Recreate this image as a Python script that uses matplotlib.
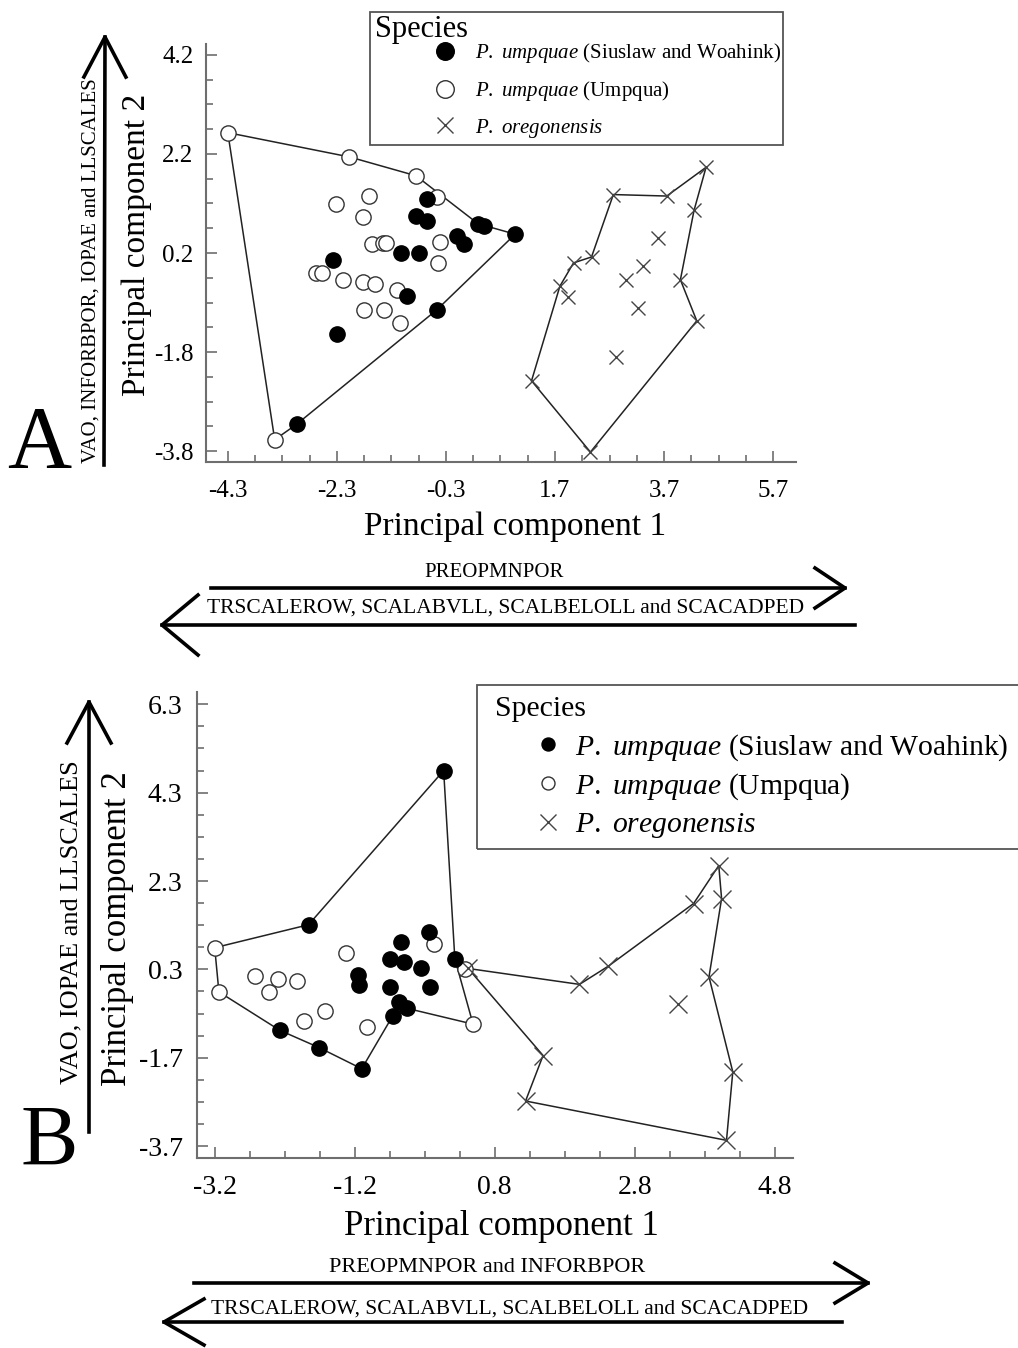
import numpy as np
import matplotlib
matplotlib.use('Agg')
import matplotlib.pyplot as plt
from matplotlib.lines import Line2D
from matplotlib.patches import Rectangle

plt.rcParams['font.family'] = 'Liberation Serif'
plt.rcParams['mathtext.fontset'] = 'custom'
plt.rcParams['mathtext.rm'] = 'Liberation Serif'
plt.rcParams['mathtext.it'] = 'Liberation Serif:italic'

W, H = 1018, 1348

# ---- panel A data (PC1, PC2) ----
a_sw_x = [-0.65, -0.84, -0.64, 0.29, 0.40, -0.10, 0.03, 0.97, -2.37, -1.13, -0.79, -1.02, -0.47, -2.29, -3.04]
a_sw_y = [1.30, 0.94, 0.85, 0.79, 0.74, 0.55, 0.38, 0.58, 0.06, 0.21, 0.19, -0.66, -0.95, -1.43, -3.26]
a_um_x = [-4.30, -2.07, -0.85, -0.46, -2.31, -1.71, -1.82, -1.66, -1.45, -1.39, -0.41, -0.45,
          -2.69, -2.58, -2.18, -1.82, -1.60, -1.20, -1.80, -1.44, -1.14, -3.44]
a_um_y = [2.63, 2.14, 1.76, 1.34, 1.18, 1.35, 0.93, 0.38, 0.40, 0.41, 0.42, -0.01,
          -0.21, -0.21, -0.34, -0.39, -0.42, -0.54, -0.96, -0.95, -1.21, -3.57]
a_or_x = [4.47, 2.77, 3.75, 4.25, 3.59, 2.37, 2.04, 3.32, 3.00, 1.79, 1.94, 4.00, 3.23, 4.30, 2.82, 1.27, 2.35]
a_or_y = [1.93, 1.38, 1.35, 1.06, 0.50, 0.12, 0.00, -0.07, -0.34, -0.47, -0.68, -0.34, -0.92, -1.17, -1.90, -2.38, -3.82]
a_hull_um_x = [-4.30, -2.07, -0.85, 0.29, 0.97, -0.47, -3.04, -3.44, -4.30]
a_hull_um_y = [2.63, 2.14, 1.76, 0.79, 0.58, -0.95, -3.26, -3.57, 2.63]
a_hull_or_x = [1.27, 1.79, 2.04, 2.37, 2.77, 3.75, 4.47, 4.25, 4.00, 4.30, 2.35, 1.27]
a_hull_or_y = [-2.38, -0.47, 0.00, 0.12, 1.38, 1.35, 1.93, 1.06, -0.34, -1.17, -3.82, -2.38]
a_xticks = [-4.3, -2.3, -0.3, 1.7, 3.7, 5.7]
a_yticks = [-3.8, -1.8, 0.2, 2.2, 4.2]

# ---- panel B data ----
b_sw_x = [0.07, -1.86, 0.23, -0.14, -0.54, -0.70, -0.49, -0.25, -0.13, -1.15, -1.14, -0.70, -0.57, -0.46, -0.66, -2.27, -1.71, -1.10]
b_sw_y = [4.80, 1.31, 0.54, 1.14, 0.93, 0.54, 0.47, 0.32, -0.11, 0.18, -0.06, -0.11, -0.44, -0.58, -0.76, -1.08, -1.47, -1.95]
b_um_x = [-3.20, -3.14, -2.63, -2.43, -2.29, -2.03, -1.32, -1.63, -1.92, -1.03, -0.07, 0.49, 0.37]
b_um_y = [0.79, -0.21, 0.16, -0.21, 0.09, 0.04, 0.68, -0.64, -0.87, -1.00, 0.88, -0.94, 0.30]
b_or_x = [4.00, 4.04, 3.64, 2.42, 2.01, 0.42, 3.86, 3.42, 1.49, 1.24, 4.20, 4.11]
b_or_y = [2.65, 1.90, 1.79, 0.37, -0.04, 0.32, 0.13, -0.48, -1.65, -2.68, -2.02, -3.57]
b_hull_um_x = [-3.20, -1.86, 0.07, 0.23, 0.49, -0.46, -0.66, -1.10, -1.71, -2.27, -3.14, -3.20]
b_hull_um_y = [0.79, 1.31, 4.80, 0.54, -0.94, -0.58, -0.76, -1.95, -1.47, -1.08, -0.21, 0.79]
b_hull_or_x = [0.42, 2.01, 2.42, 3.64, 4.00, 4.04, 3.86, 4.20, 4.11, 1.24, 1.49, 0.42]
b_hull_or_y = [0.32, -0.04, 0.37, 1.79, 2.65, 1.90, 0.13, -2.02, -3.57, -2.68, -1.65, 0.32]
b_xticks = [-3.2, -1.2, 0.8, 2.8, 4.8]
b_yticks = [-3.7, -1.7, 0.3, 2.3, 4.3, 6.3]

labels = [r'$\it{P.\ umpquae}$ (Siuslaw and Woahink)',
          r'$\it{P.\ umpquae}$ (Umpqua)',
          r'$\it{P.\ oregonensis}$']


def fx(px):
    return px / W


def fy(py):
    return 1 - py / H


fig = plt.figure(figsize=(W / 100, H / 100), dpi=100)


def style_axis(ax, xt, yt, xlim, ylim, size, xpad, ypad):
    ax.set_xticks(xt)
    ax.set_xticklabels(['%.1f' % v for v in xt])
    ax.set_yticks(yt)
    ax.set_yticklabels(['%.1f' % v for v in yt])
    xm = np.arange(xt[0] - 0.5, xlim[1], 0.5)
    ym = np.arange(yt[0] - 0.5, ylim[1], 0.5)
    ax.set_xticks(xm[xm > xlim[0]], minor=True)
    ax.set_yticks(ym[ym > ylim[0]], minor=True)
    ax.set_xlim(*xlim)
    ax.set_ylim(*ylim)
    ax.spines[['top', 'right']].set_visible(False)
    for s in ['left', 'bottom']:
        ax.spines[s].set_color('#6e6e6e')
        ax.spines[s].set_linewidth(1.5)
    ax.tick_params(which='both', direction='in', color='#6e6e6e', width=1.2, labelsize=size)
    ax.tick_params(which='major', length=8)
    ax.tick_params(which='minor', length=5)
    ax.tick_params(axis='x', pad=xpad)
    ax.tick_params(axis='y', pad=ypad)


def draw_panel(ax, sw, um, orr, hum, hor, ms_x):
    ax.plot(hum[0], hum[1], color='#222222', lw=1.1, zorder=1)
    ax.plot(hor[0], hor[1], color='#222222', lw=1.1, zorder=1)
    h1, = ax.plot(sw[0], sw[1], 'o', ms=11, mfc='black', mec='black', ls='none', zorder=3)
    h2, = ax.plot(um[0], um[1], 'o', ms=11, mfc='white', mec='#333333', mew=1.0, ls='none', zorder=2)
    h3, = ax.plot(orr[0], orr[1], 'x', ms=ms_x, color='#444444', mew=1.0, ls='none', zorder=2)
    return [h1, h2, h3]


def open_arrow(x0, y0, x1, y1, hl, hw):
    d = np.array([x1 - x0, y1 - y0], float)
    u = d / np.hypot(*d)
    p = np.array([-u[1], u[0]])
    tip = np.array([x1, y1], float)
    base = tip - hl * u
    a1 = base + hw * p
    a2 = base - hw * p
    fig.add_artist(Line2D([fx(x0), fx(x1)], [fy(y0), fy(y1)], color='black', lw=2.6,
                          transform=fig.transFigure))
    fig.add_artist(Line2D([fx(a1[0]), fx(x1), fx(a2[0])], [fy(a1[1]), fy(y1), fy(a2[1])],
                          color='black', lw=2.6, transform=fig.transFigure))


# ---------- panel A ----------
axA = fig.add_axes([fx(206), fy(462), (796 - 206) / W, (462 - 44) / H])
hA = draw_panel(axA, (a_sw_x, a_sw_y), (a_um_x, a_um_y), (a_or_x, a_or_y),
                (a_hull_um_x, a_hull_um_y), (a_hull_or_x, a_hull_or_y), 10)
style_axis(axA, a_xticks, a_yticks, (-4.70, 6.12), (-4.02, 4.42), 18, 13, 9)
axA.set_xlabel('Principal component 1', fontsize=24)
axA.xaxis.set_label_coords(0.524, -0.155)
axA.xaxis.label.set_va('center')
axA.set_ylabel('Principal component 2', fontsize=24, va='center')
axA.yaxis.set_label_coords(-0.118, 0.52)

fig.add_artist(Rectangle((fx(370), fy(145)), (783 - 370) / W, (145 - 12) / H,
                         transform=fig.transFigure, fill=False, ec='#555555', lw=1.3))
fig.text(fx(375), fy(37), 'Species', fontsize=22, ha='left', va='baseline')
fs = 15 / 72 * 100
legA = axA.legend(hA, labels, loc='center left', bbox_to_anchor=(fx(445 - 0.5 * fs), fy(90.5)),
                  bbox_transform=fig.transFigure, frameon=False, fontsize=15,
                  borderpad=0, borderaxespad=0, handlelength=1.0,
                  handletextpad=(475 - 445 - 0.5 * fs) / fs, labelspacing=0.65, markerscale=1.15)

fig.text(fx(39), fy(467), 'A', fontsize=64, ha='center', va='baseline')
open_arrow(104, 465, 105, 37, 40, 21)
fig.text(fx(91), fy(271), 'VAO, INFORBPOR, IOPAE and LLSCALES', fontsize=15,
         rotation=90, ha='center', va='center')
open_arrow(211, 588, 845, 588, 30, 20)
fig.text(fx(494), fy(573), 'PREOPMNPOR', fontsize=15, ha='center', va='center')
open_arrow(855, 625, 162, 625, 36, 30)
fig.text(fx(506), fy(608), 'TRSCALEROW, SCALABVLL, SCALBELOLL and SCACADPED', fontsize=15.5,
         ha='center', va='center')

# ---------- panel B ----------
axB = fig.add_axes([fx(196.5), fy(1158), (793 - 196.5) / W, (1158 - 691.7) / H])
hB = draw_panel(axB, (b_sw_x, b_sw_y), (b_um_x, b_um_y), (b_or_x, b_or_y),
                (b_hull_um_x, b_hull_um_y), (b_hull_or_x, b_hull_or_y), 13)
style_axis(axB, b_xticks, b_yticks, (-3.46, 5.06), (-3.97, 6.585), 20, 12, 10)
axB.set_xlabel('Principal component 1', fontsize=25)
axB.xaxis.set_label_coords(0.512, -0.146)
axB.xaxis.label.set_va('center')
axB.set_ylabel('Principal component 2', fontsize=25, va='center')
axB.yaxis.set_label_coords(-0.133, 0.491)

fig.add_artist(Rectangle((fx(477), fy(849)), (1060 - 477) / W, (849 - 685) / H,
                         transform=fig.transFigure, fill=False, ec='#555555', lw=1.3))
fig.text(fx(495), fy(716), 'Species', fontsize=21.5, ha='left', va='baseline')
fs = 21.3 / 72 * 100
legB = axB.legend(hB, labels, loc='center left', bbox_to_anchor=(fx(548 - 0.4 * fs), fy(786)),
                  bbox_transform=fig.transFigure, frameon=False, fontsize=21.3,
                  borderpad=0, borderaxespad=0, handlelength=0.8,
                  handletextpad=(575 - 548 - 0.4 * fs) / fs, labelspacing=0.3, markerscale=0.85)

fig.text(fx(49), fy(1165), 'B', fontsize=62, ha='center', va='baseline')
open_arrow(89, 1132, 89, 702, 41, 22)
fig.text(fx(71), fy(922), 'VAO, IOPAE and LLSCALES', fontsize=19,
         rotation=90, ha='center', va='center')
open_arrow(194, 1283, 868, 1283, 33, 20)
fig.text(fx(487), fy(1268), 'PREOPMNPOR and INFORBPOR', fontsize=16, ha='center', va='center')
open_arrow(842, 1322, 164, 1322, 40, 23)
fig.text(fx(510), fy(1309), 'TRSCALEROW, SCALABVLL, SCALBELOLL and SCACADPED', fontsize=15.5,
         ha='center', va='center')

fig.savefig('out.png', dpi=100)
